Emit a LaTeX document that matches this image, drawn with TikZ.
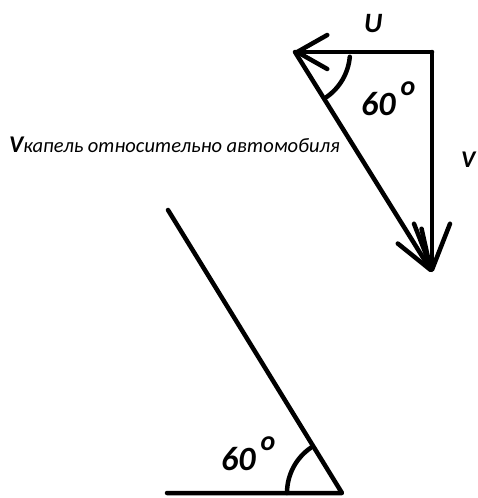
\documentclass[tikz,border=0pt]{standalone}
\usepackage{fontspec}
\setmainfont{Carlito}
\usetikzlibrary{arrows.meta}
\newdimen\pxsize
\setlength{\pxsize}{1pt}

\begin{document}
\begin{tikzpicture}[x=\pxsize,y=-\pxsize,
  stroke/.style={line width=4.5pt,line cap=round,line join=round},
  lbl/.style={anchor=base west,inner sep=0pt},
  ]
\useasboundingbox (0,0) rectangle (478,498);
\coordinate (corner) at (432,52);
\coordinate (utip) at (295,52);
\coordinate (vtip) at (432,272);
\coordinate (top) at (168,210);
\coordinate (foot) at (167,493);
\coordinate (apex) at (342,493);
% velocity triangle
\draw[stroke,-{Straight Barb[length=30pt,width=34pt,round]}] (corner) -- (utip);
\draw[stroke,-{Straight Barb[length=46pt,width=36pt,round]}] (corner) -- (vtip);
\draw[stroke,-{Straight Barb[length=40pt,width=28pt,round]}] (utip) -- (vtip);
\draw[stroke] (utip) ++(5:55) arc[start angle=5,end angle=55,radius=55];
% slope of the drops
\draw[stroke] (top) -- (apex) -- (foot);
\draw[stroke] (apex) ++(180:55) arc[start angle=180,end angle=236,radius=55];
\foreach \nm/\px/\py in {degtop/361/115,degbot/221/470}{
  \node[lbl,font=\fontsize{34}{36}\selectfont\bfseries\itshape] (\nm) at (\px,\py)
    {60\hspace{5pt}\raisebox{20pt}{\fontsize{28}{30}\selectfont o}};
}
\node[lbl,font=\fontsize{28}{30}\selectfont\bfseries\itshape] (ulab) at (364,32) {U};
\node[lbl,font=\fontsize{24}{26}\selectfont\bfseries\itshape] (vlab) at (461,167) {V};
\node[lbl] (vrel) at (9,152)
  {{\fontsize{24}{26}\selectfont\bfseries\itshape V}{\fontsize{20.5}{22}\selectfont\itshape капель относительно автомобиля}};
\end{tikzpicture}
\end{document}
